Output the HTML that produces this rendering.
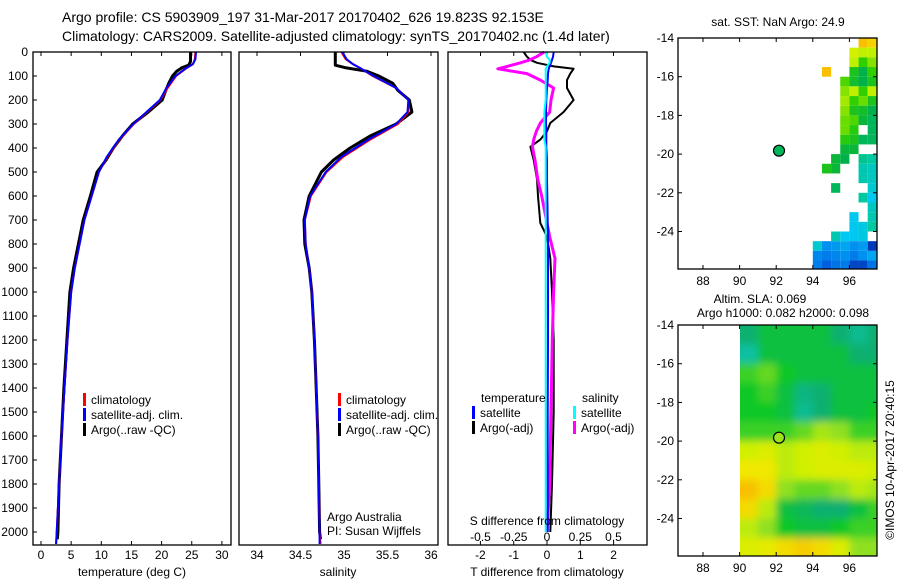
<!DOCTYPE html>
<html><head><meta charset="utf-8"><style>
html,body{margin:0;padding:0;background:#fff;}
svg{display:block;font-family:"Liberation Sans",sans-serif;}
text{fill:#000;}
</style></head><body>
<svg id="fig" width="900" height="580" viewBox="0 0 900 580">
<text x="62" y="22" font-size="14">Argo profile: CS 5903909_197 31-Mar-2017 20170402_626 19.823S 92.153E</text>
<text x="62" y="41" font-size="14">Climatology: CARS2009. Satellite-adjusted climatology: synTS_20170402.nc (1.4d later)</text>
<g id="g1"></g>
<g id="g2"></g>
<g id="g3"></g>
<g id="g4"></g>
<g id="g5"></g>
<text x="132" y="576" font-size="12" text-anchor="middle">temperature (deg C)</text>
<text x="338" y="576" font-size="12" text-anchor="middle">salinity</text>
<text x="547" y="576" font-size="12" text-anchor="middle">T difference from climatology</text>
<text x="547" y="525" font-size="12" text-anchor="middle">S difference from climatology</text>
<text x="778" y="26" font-size="12" text-anchor="middle">sat. SST: NaN Argo: 24.9</text>
<text x="760" y="303" font-size="12" text-anchor="middle">Altim. SLA: 0.069</text>
<text x="783" y="317" font-size="12" text-anchor="middle">Argo h1000: 0.082 h2000: 0.098</text>
<text transform="translate(894,460) rotate(-90)" font-size="12" text-anchor="middle">©IMOS 10-Apr-2017 20:40:15</text>
<text x="327" y="521" font-size="12">Argo Australia</text>
<text x="327" y="535" font-size="12">PI: Susan Wijffels</text>
</svg>
<script>
// ---- data ----
const depthTicks = [0,100,200,300,400,500,600,700,800,900,1000,1100,1200,1300,1400,1500,1600,1700,1800,1900,2000];
const tempTicks = [0,5,10,15,20,25,30];
const salTicks = [34,34.5,35,35.5,36];
const salTickLabels = ["34","34.5","35","35.5","36"];
const tdTicks = [-2,-1,0,1,2];
const sdTicks = [-0.5,-0.25,0,0.25,0.5];
const sdTickLabels = ["-0.5","-0.25","0","0.25","0.5"];

const argoDepth = [0,40,55,65,80,100,130,160,200,250,300,350,400,450,500,600,700,800,900,1000,1200,1400,1600,1800,2000,2030];
const argoTemp  = [24.8,24.8,24.5,23.4,22.5,21.8,21.2,20.7,20.1,17.8,15.2,13.5,12.0,10.8,9.3,8.2,7.0,6.2,5.4,4.8,4.3,3.8,3.4,3.0,2.8,2.7];
const argoSal   = [34.9,34.9,34.9,35.01,35.26,35.4,35.56,35.62,35.75,35.78,35.6,35.3,35.07,34.88,34.74,34.6,34.54,34.55,34.6,34.63,34.66,34.68,34.7,34.71,34.72,34.73];
const climDepth = [0,30,50,70,100,150,200,250,300,365,437,500,600,700,800,900,1000,1200,1400,1600,1800,2000,2050];
const climTemp  = [25.6,25.5,25.2,24.0,22.4,21.0,19.8,17.6,15.4,13.0,11.0,9.6,8.4,7.2,6.4,5.6,5.0,4.4,3.9,3.4,3.0,2.6,2.5];
const satTemp   = [25.7,25.6,25.2,23.9,22.3,20.8,19.7,17.5,15.3,12.9,10.9,9.6,8.4,7.2,6.4,5.6,5.0,4.4,3.9,3.4,3.0,2.6,2.5];
const climSal   = [34.97,35.02,35.1,35.2,35.33,35.6,35.74,35.74,35.62,35.3,34.99,34.8,34.62,34.55,34.56,34.6,34.63,34.66,34.68,34.7,34.71,34.72,34.73];
const satSal    = [34.98,35.03,35.1,35.2,35.34,35.6,35.74,35.73,35.6,35.28,34.97,34.79,34.61,34.55,34.56,34.6,34.63,34.66,34.68,34.7,34.71,34.72,34.72];

const diffDepth = [0,20,33,45,60,70,90,117,150,200,250,296,330,365,395,450,530,600,712,770,860,1000,1200,1500,1800,2000];
const tDiffArgo = [-0.7,-0.6,-0.5,-0.3,0.2,0.8,0.7,0.6,0.6,0.8,0.5,0.1,0.0,-0.2,-0.5,-0.4,-0.3,-0.27,-0.2,0.0,0.1,0.15,0.2,0.2,0.15,0.1];
const sDiffArgo = [-0.02,-0.08,-0.13,-0.2,-0.3,-0.37,-0.15,-0.05,0.05,0.03,0.02,-0.05,-0.08,-0.1,-0.11,-0.09,-0.07,-0.04,0.0,0.02,0.06,0.05,0.04,0.03,0.02,0.0];
const tDiffSat  = [0.2,0.18,0.15,0.12,0.08,0.05,0.03,0.02,0.0,-0.02,-0.03,-0.03,-0.02,-0.02,-0.02,0.0,0.0,0.01,0.02,0.03,0.03,0.03,0.03,0.02,0.02,0.02];
const sDiffSat  = [-0.01,0.0,0.02,0.02,0.0,-0.01,-0.01,-0.01,-0.01,-0.01,-0.02,-0.02,-0.02,-0.02,-0.01,-0.01,-0.01,-0.01,-0.01,-0.01,-0.01,-0.01,-0.01,-0.01,-0.01,-0.01];

const lonTicks = [88,90,92,94,96];
const latTicks = [-14,-16,-18,-20,-22,-24];
const argoLon = 92.153, argoLat = -19.823;
const sstLons = [94,94.5,95,95.5,96,96.5,97];
const sstLats = [-14,-14.5,-15,-15.5,-16,-16.5,-17,-17.5,-18,-18.5,-19,-19.5,-20,-20.5,-21,-21.5,-22,-22.5,-23,-23.5,-24,-24.5,-25,-25.5];
const sstGrid = [
[null,null,null,null,null,27,26.8],
[null,null,null,null,26.2,26,26],
[null,null,null,null,26,25.5,25.8],
[null,27,null,null,25.3,25,25.5],
[null,null,null,25.6,25.2,25,25.3],
[null,null,null,25.8,26,25.5,26],
[null,null,null,25.9,25.5,25.7,25.3],
[null,null,null,25.8,25.3,25.2,25],
[null,null,null,25.7,25.6,25.1,24.9],
[null,null,null,25.7,25.4,null,24.9],
[null,null,null,25.4,25.3,24.9,24.9],
[null,null,null,25.1,25.1,null,null],
[null,null,25.1,25.0,null,24.6,24.5],
[null,25.3,25.1,null,null,24.4,24.3],
[null,null,null,null,null,24.4,24.3],
[null,null,24.9,null,null,null,24.2],
[null,null,null,null,null,24.5,24.0],
[null,null,null,null,null,null,24.3],
[null,null,null,null,24.0,null,24.4],
[null,null,null,null,24.0,24.1,24.5],
[null,null,24.4,24.0,24.0,24.1,null],
[24.2,23.5,23.6,23.7,23.5,23.6,22.7],
[23.4,23.3,23.4,23.5,23.3,23.5,23.7],
[23.3,23.0,23.2,23.3,22.8,22.8,23.2]];
const slaLons = [90,91,92,93,94,95,96,97];
const slaLats = [-14,-15,-16,-17,-18,-19,-20,-21,-22,-23,-24,-25];
const slaGrid = [
[0.05,0.06,0.06,0.06,0.06,0.05,0.04,0.05],
[0.035,0.06,0.06,0.06,0.06,0.06,0.05,0.05],
[0.07,0.075,0.065,0.06,0.06,0.06,0.06,0.06],
[0.065,0.07,0.06,0.045,0.05,0.06,0.06,0.06],
[0.065,0.065,0.06,0.04,0.05,0.06,0.06,0.065],
[0.07,0.07,0.07,0.075,0.085,0.08,0.07,0.07],
[0.095,0.1,0.09,0.095,0.1,0.095,0.09,0.09],
[0.11,0.11,0.09,0.095,0.1,0.1,0.1,0.095],
[0.125,0.115,0.08,0.075,0.075,0.08,0.09,0.085],
[0.115,0.09,0.06,0.055,0.05,0.05,0.06,0.07],
[0.09,0.08,0.065,0.06,0.06,0.065,0.07,0.07],
[0.1,0.105,0.115,0.12,0.115,0.1,0.08,0.08]];

// ---- helpers ----
const NS = "http://www.w3.org/2000/svg";
function mk(tag, attrs, parent){const e=document.createElementNS(NS,tag);for(const k in attrs)e.setAttribute(k,attrs[k]);parent.appendChild(e);return e;}
const yD = d => 52 + d*0.24;
const xT = t => 41 + t*6.03;
const xS = s => 257 + (s-34)*87;
const xTD = t => 547 + t*33.3;
const xSD = s => 547 + s*133;
const xLon = l => 703 + (l-88)*18.3;
const yLat1 = l => 38 + (-14-l)*19.35;
const yLat2 = l => 325 + (-14-l)*19.35;
function lerp(c1,c2,t){const a=parseInt(c1.slice(1),16),b=parseInt(c2.slice(1),16);const r=Math.round(((a>>16)&255)*(1-t)+((b>>16)&255)*t),g=Math.round(((a>>8)&255)*(1-t)+((b>>8)&255)*t),bl=Math.round((a&255)*(1-t)+(b&255)*t);return "rgb("+r+","+g+","+bl+")";}
function cmap(stops,v){if(v<=stops[0][0])return stops[0][1];for(let i=1;i<stops.length;i++){if(v<=stops[i][0]){const t=(v-stops[i-1][0])/(stops[i][0]-stops[i-1][0]);return lerp(stops[i-1][1],stops[i][1],t);}}return stops[stops.length-1][1];}
const sstStops=[[22.5,"#0020a0"],[23,"#0060e0"],[23.5,"#0090f0"],[24,"#00c8f0"],[24.5,"#00c8a0"],[25,"#00b048"],[25.5,"#30d000"],[26,"#c0f000"],[26.5,"#f0f000"],[27,"#f8c000"]];
const slaStops=[[0.035,"#10c0a0"],[0.05,"#10b070"],[0.065,"#10c828"],[0.08,"#90e020"],[0.095,"#d0f000"],[0.11,"#f0e800"],[0.125,"#f8c000"]];

function frame(g,x,y,w,h,name){const r=mk('rect',{x:x,y:y,width:w,height:h,fill:'none',stroke:'#000','stroke-width':1.3},g);}
function line(g,xs,ys,col,w,name){let d='';for(let i=0;i<xs.length;i++)d+=(i?'L':'M')+xs[i].toFixed(1)+' '+ys[i].toFixed(1);const p=mk('path',{d:d,fill:'none',stroke:col,'stroke-width':w,'stroke-linejoin':'round'},g);}
function tickLabel(g,x,y,s,anchor,name){const t=mk('text',{x:x,y:y,'font-size':12,'text-anchor':anchor},g);t.textContent=s;}
function legend(g,x,y,col,s,name){const r=mk('rect',{x:x,y:y-11,width:3,height:13,fill:col},g);tickLabel(g,x+8,y,s,'start',name);}

// ---- panel 1: temperature ----
const g1=document.getElementById('g1');
depthTicks.forEach(d=>{tickLabel(g1,28,yD(d)+4,String(d),'end','depth-tick-label');const t=mk('line',{x1:33,x2:37,y1:yD(d),y2:yD(d),stroke:'#000'},g1);});
tempTicks.forEach(v=>{tickLabel(g1,xT(v),559,String(v),'middle','temperature-tick-label');const t=mk('line',{x1:xT(v),x2:xT(v),y1:52,y2:56,stroke:'#000'},g1);const b=mk('line',{x1:xT(v),x2:xT(v),y1:545,y2:541,stroke:'#000'},g1);});
line(g1,argoTemp.map(xT),argoDepth.map(yD),'#000',3,'argo-temperature-line');
line(g1,climTemp.map(xT),climDepth.map(yD),'#f00',2,'climatology-temperature-line');
line(g1,satTemp.map(xT),climDepth.map(yD),'#00f',2,'satellite-temperature-line');
frame(g1,33,52,198,493,'temperature-plot-frame');
legend(g1,83,404,'#f00','climatology','legend-climatology');
legend(g1,83,419,'#00f','satellite-adj. clim.','legend-satellite');
legend(g1,83,434,'#000','Argo(..raw -QC)','legend-argo');

// ---- panel 2: salinity ----
const g2=document.getElementById('g2');
salTicks.forEach((v,i)=>{tickLabel(g2,xS(v),559,salTickLabels[i],'middle','salinity-tick-label');const t=mk('line',{x1:xS(v),x2:xS(v),y1:52,y2:56,stroke:'#000'},g2);});
line(g2,argoSal.map(xS),argoDepth.map(yD),'#000',3,'argo-salinity-line');
line(g2,climSal.map(xS),climDepth.map(yD),'#f00',2,'climatology-salinity-line');
line(g2,satSal.map(xS),climDepth.map(yD),'#00f',2,'satellite-salinity-line');
frame(g2,239,52,199,493,'salinity-plot-frame');
legend(g2,338,404,'#f00','climatology','legend-climatology');
legend(g2,338,419,'#00f','satellite-adj. clim.','legend-satellite');
legend(g2,338,434,'#000','Argo(..raw -QC)','legend-argo');

// ---- panel 3: differences ----
const g3=document.getElementById('g3');
tdTicks.forEach(v=>{tickLabel(g3,xTD(v),559,String(v),'middle','t-diff-tick-label');const t=mk('line',{x1:xTD(v),x2:xTD(v),y1:545,y2:541,stroke:'#000'},g3);});
sdTicks.forEach((v,i)=>{tickLabel(g3,xSD(v),541,sdTickLabels[i],'middle','s-diff-tick-label');const t=mk('line',{x1:xSD(v),x2:xSD(v),y1:52,y2:56,stroke:'#000'},g3);});
line(g3,tDiffArgo.map(xTD),diffDepth.map(yD),'#000',2,'argo-t-diff-line');
line(g3,sDiffArgo.map(xSD),diffDepth.map(yD),'#f0f',3,'argo-s-diff-line');
line(g3,tDiffSat.map(xTD),diffDepth.map(yD),'#00f',2,'satellite-t-diff-line');
line(g3,sDiffSat.map(xSD),diffDepth.map(yD),'#0ff',2,'satellite-s-diff-line');
frame(g3,448,52,199,493,'difference-plot-frame');
tickLabel(g3,481,402,'temperature','start','legend-temperature-heading');
tickLabel(g3,582,402,'salinity','start','legend-salinity-heading');
legend(g3,472,417,'#00f','satellite','legend-t-satellite');
legend(g3,472,432,'#000','Argo(-adj)','legend-t-argo');
legend(g3,573,417,'#0ff','satellite','legend-s-satellite');
legend(g3,573,432,'#f0f','Argo(-adj)','legend-s-argo');

// ---- maps ----
function mapAxes(g,y0,yLat,name){
 latTicks.forEach(l=>{tickLabel(g,674,yLat(l)+4,String(l),'end','latitude-tick-label');[[678,682],[877,873]].forEach(p=>{const t=mk('line',{x1:p[0],x2:p[1],y1:yLat(l),y2:yLat(l),stroke:'#000'},g);});});
 lonTicks.forEach(l=>{tickLabel(g,xLon(l),y0+231+16,String(l),'middle','longitude-tick-label');[[y0,y0+4],[y0+231,y0+227]].forEach(p=>{const t=mk('line',{x1:xLon(l),x2:xLon(l),y1:p[0],y2:p[1],stroke:'#000'},g);});});
 frame(g,678,y0,199,231,name);
}
const g4=document.getElementById('g4');
sstGrid.forEach((row,i)=>row.forEach((v,j)=>{if(v===null)return;const x1=xLon(sstLons[j]),x2=xLon(sstLons[j]+0.5),y1=yLat1(sstLats[i]),y2=yLat1(sstLats[i]-0.5);const c=mk('rect',{x:x1,y:y1,width:Math.min(x2,877)-x1,height:Math.min(y2,269)-y1,fill:cmap(sstStops,v)},g4);}));
const ad=mk('circle',{cx:xLon(argoLon),cy:yLat1(argoLat),r:5.5,fill:cmap(sstStops,24.9),stroke:'#000','stroke-width':1.2},g4);


mapAxes(g4,38,yLat1,'sst-map-frame');

const g5=document.getElementById('g5');
const defs=mk('defs',{},g5);
const cp=mk('clipPath',{id:'slaclip'},defs);mk('rect',{x:740,y:325,width:137,height:231},cp);
const fl=mk('filter',{id:'blur',x:'-10%',y:'-10%',width:'120%',height:'120%'},defs);mk('feGaussianBlur',{stdDeviation:4},fl);
const cg=mk('g',{'clip-path':'url(#slaclip)'},g5);
const bg=mk('g',{filter:'url(#blur)'},cg);
slaGrid.forEach((row,i)=>row.forEach((v,j)=>{const x1=xLon(slaLons[j])-(j===0?10:0),x2=xLon(slaLons[j]+1)+(j===row.length-1?10:0),y1=yLat2(slaLats[i])-(i===0?10:0),y2=yLat2(slaLats[i]-1)+(i===slaGrid.length-1?12:0);const c=mk('rect',{x:x1,y:y1,width:x2-x1+0.5,height:y2-y1+0.5,fill:cmap(slaStops,v)},bg);}));
const ad2=mk('circle',{cx:xLon(argoLon),cy:yLat2(argoLat),r:5.5,fill:cmap(slaStops,0.082),stroke:'#000','stroke-width':1.2},g5);


mapAxes(g5,325,yLat2,'sla-map-frame');
</script>
</body></html>
